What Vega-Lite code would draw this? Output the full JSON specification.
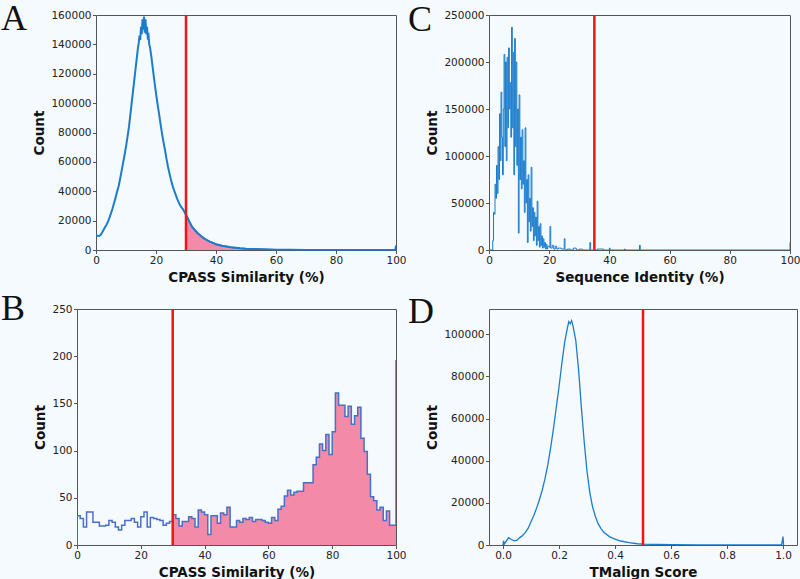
{
  "$schema": "https://vega.github.io/schema/vega-lite/v6.json",
  "background": "#f5fafe",
  "padding": {"left": 1, "top": 1, "right": 0, "bottom": 0},
  "config": {
    "view": {"stroke": "#555555", "strokeWidth": 1, "fill": "#f5fafe"},
    "axis": {"labelFont": "DejaVu Sans", "labelFontSize": 10.5, "labelColor": "#222222", "titleFont": "DejaVu Sans", "titleFontSize": 13.5, "titleFontWeight": "bold", "titleColor": "#111111", "grid": false, "domain": false, "tickColor": "#555555", "tickSize": 3.5, "labelPadding": 1.5, "labelFlush": false, "labelOverlap": false},
    "axisX": {"titlePadding": 5},
    "axisY": {"titlePadding": 4},
    "title": {"font": "Liberation Serif", "fontSize": 36, "fontWeight": "normal", "anchor": "start", "frame": "group", "offset": 0, "baseline": "top", "color": "#111111"}
  },
  "datasets": {
    "a": [
      {"x": 0, "y": 10200}, {"x": 0.5, "y": 9600}, {"x": 1, "y": 9500}, {"x": 1.5, "y": 10200}, {"x": 2, "y": 11800}, {"x": 2.5, "y": 13600}, {"x": 3, "y": 15500}, {"x": 3.5, "y": 17200}, {"x": 4, "y": 19300}, {"x": 4.5, "y": 22000}, {"x": 5, "y": 25000}, {"x": 5.5, "y": 28200}, {"x": 6, "y": 31800}, {"x": 6.5, "y": 35500}, {"x": 7, "y": 39500}, {"x": 7.5, "y": 43100}, {"x": 8, "y": 48000}, {"x": 8.5, "y": 53500}, {"x": 9, "y": 59000}, {"x": 9.5, "y": 64500}, {"x": 10, "y": 70400}, {"x": 10.5, "y": 77000}, {"x": 11, "y": 84000}, {"x": 11.5, "y": 93000}, {"x": 12, "y": 102000}, {"x": 12.5, "y": 111000}, {"x": 13, "y": 120000}, {"x": 13.5, "y": 129000}, {"x": 14, "y": 138000}, {"x": 14.25, "y": 141000}, {"x": 14.5, "y": 146000}, {"x": 14.75, "y": 143000}, {"x": 15, "y": 152000}, {"x": 15.25, "y": 147000}, {"x": 15.5, "y": 157000}, {"x": 15.75, "y": 150000}, {"x": 16, "y": 159000}, {"x": 16.25, "y": 148000}, {"x": 16.5, "y": 157000}, {"x": 16.75, "y": 147000}, {"x": 17, "y": 152000}, {"x": 17.25, "y": 145000}, {"x": 17.5, "y": 146000}, {"x": 17.75, "y": 140000}, {"x": 18, "y": 138000}, {"x": 18.5, "y": 131000}, {"x": 19, "y": 122500}, {"x": 19.5, "y": 114500}, {"x": 20, "y": 106700}, {"x": 20.5, "y": 99500}, {"x": 21, "y": 93000}, {"x": 21.5, "y": 86000}, {"x": 22, "y": 79400}, {"x": 22.5, "y": 73500}, {"x": 23, "y": 68100}, {"x": 23.5, "y": 62000}, {"x": 24, "y": 56700}, {"x": 24.5, "y": 52000}, {"x": 25, "y": 47700}, {"x": 25.5, "y": 44000}, {"x": 26, "y": 40800}, {"x": 26.5, "y": 38000}, {"x": 27, "y": 35200}, {"x": 27.5, "y": 32800}, {"x": 28, "y": 30600}, {"x": 28.5, "y": 29000}, {"x": 29, "y": 27700}, {"x": 29.5, "y": 25800}, {"x": 30, "y": 23800}, {"x": 30.5, "y": 22000}, {"x": 31, "y": 19800}, {"x": 32, "y": 15900}, {"x": 33, "y": 13400}, {"x": 34, "y": 11300}, {"x": 35, "y": 9500}, {"x": 36, "y": 7900}, {"x": 37, "y": 6700}, {"x": 38, "y": 5700}, {"x": 39, "y": 4800}, {"x": 40, "y": 3900}, {"x": 42, "y": 2900}, {"x": 45, "y": 1800}, {"x": 48, "y": 1200}, {"x": 50, "y": 900}, {"x": 55, "y": 450}, {"x": 60, "y": 200}, {"x": 65, "y": 100}, {"x": 70, "y": 50}, {"x": 80, "y": 15}, {"x": 90, "y": 5}, {"x": 99.8, "y": 0}, {"x": 100, "y": 3000}
    ],
    "b": [
      {"x": 0, "y": 0}, {"x": 0, "y": 31}, {"x": 1, "y": 28}, {"x": 2, "y": 19}, {"x": 3, "y": 35}, {"x": 4, "y": 35}, {"x": 5, "y": 24}, {"x": 6, "y": 24}, {"x": 7, "y": 20}, {"x": 8, "y": 20}, {"x": 9, "y": 21},
      {"x": 10, "y": 26}, {"x": 11, "y": 24}, {"x": 12, "y": 19}, {"x": 13, "y": 16}, {"x": 14, "y": 21}, {"x": 15, "y": 26}, {"x": 16, "y": 26}, {"x": 17, "y": 28}, {"x": 18, "y": 24}, {"x": 19, "y": 19},
      {"x": 20, "y": 30}, {"x": 21, "y": 35}, {"x": 22, "y": 19}, {"x": 23, "y": 29}, {"x": 24, "y": 28}, {"x": 25, "y": 27}, {"x": 26, "y": 26}, {"x": 27, "y": 21}, {"x": 28, "y": 23}, {"x": 29, "y": 25},
      {"x": 30, "y": 32}, {"x": 31, "y": 28}, {"x": 32, "y": 20}, {"x": 33, "y": 25}, {"x": 34, "y": 25}, {"x": 35, "y": 30}, {"x": 36, "y": 28}, {"x": 37, "y": 19}, {"x": 38, "y": 37}, {"x": 39, "y": 35},
      {"x": 40, "y": 32}, {"x": 41, "y": 11}, {"x": 42, "y": 31}, {"x": 43, "y": 31}, {"x": 44, "y": 23}, {"x": 45, "y": 34}, {"x": 46, "y": 32}, {"x": 47, "y": 40}, {"x": 48, "y": 19}, {"x": 49, "y": 19},
      {"x": 50, "y": 26}, {"x": 51, "y": 24}, {"x": 52, "y": 28}, {"x": 53, "y": 27}, {"x": 54, "y": 29}, {"x": 55, "y": 25}, {"x": 56, "y": 27}, {"x": 57, "y": 27}, {"x": 58, "y": 26}, {"x": 59, "y": 24},
      {"x": 60, "y": 23}, {"x": 61, "y": 29}, {"x": 62, "y": 26}, {"x": 63, "y": 38}, {"x": 64, "y": 41}, {"x": 65, "y": 52}, {"x": 66, "y": 58}, {"x": 67, "y": 53}, {"x": 68, "y": 56}, {"x": 69, "y": 57},
      {"x": 70, "y": 57}, {"x": 71, "y": 66}, {"x": 72, "y": 66}, {"x": 73, "y": 66}, {"x": 74, "y": 85}, {"x": 75, "y": 93}, {"x": 76, "y": 107}, {"x": 77, "y": 100}, {"x": 78, "y": 117}, {"x": 79, "y": 96},
      {"x": 80, "y": 120}, {"x": 81, "y": 161}, {"x": 82, "y": 148}, {"x": 83, "y": 148}, {"x": 84, "y": 136}, {"x": 85, "y": 147}, {"x": 86, "y": 128}, {"x": 87, "y": 137}, {"x": 88, "y": 146}, {"x": 89, "y": 113},
      {"x": 90, "y": 99}, {"x": 91, "y": 75}, {"x": 92, "y": 51}, {"x": 93, "y": 47}, {"x": 94, "y": 37}, {"x": 95, "y": 40}, {"x": 96, "y": 26}, {"x": 97, "y": 36}, {"x": 98, "y": 21}, {"x": 99, "y": 21},
      {"x": 100, "y": 196}
    ],
    "c": [
      {"x": 0, "y": 0}, {"x": 1, "y": 0}, {"x": 1.25, "y": 10000}, {"x": 1.5, "y": 40000}, {"x": 1.75, "y": 38000}, {"x": 2, "y": 70000}, {"x": 2.25, "y": 55000}, {"x": 2.5, "y": 90000}, {"x": 2.75, "y": 60000},
      {"x": 3, "y": 110000}, {"x": 3.25, "y": 75000}, {"x": 3.5, "y": 145000}, {"x": 3.75, "y": 95000}, {"x": 4, "y": 168000}, {"x": 4.25, "y": 120000}, {"x": 4.5, "y": 80000}, {"x": 4.75, "y": 150000},
      {"x": 5, "y": 208000}, {"x": 5.25, "y": 110000}, {"x": 5.5, "y": 200000}, {"x": 5.75, "y": 95000}, {"x": 6, "y": 205000}, {"x": 6.25, "y": 130000}, {"x": 6.5, "y": 215000}, {"x": 6.75, "y": 150000},
      {"x": 7, "y": 178000}, {"x": 7.25, "y": 120000}, {"x": 7.5, "y": 237000}, {"x": 7.75, "y": 130000}, {"x": 8, "y": 210000}, {"x": 8.25, "y": 80000}, {"x": 8.5, "y": 225000}, {"x": 8.75, "y": 110000},
      {"x": 9, "y": 200000}, {"x": 9.25, "y": 90000}, {"x": 9.5, "y": 150000}, {"x": 9.75, "y": 18000}, {"x": 10, "y": 165000}, {"x": 10.25, "y": 75000}, {"x": 10.5, "y": 120000}, {"x": 10.75, "y": 65000},
      {"x": 11, "y": 128000}, {"x": 11.25, "y": 70000}, {"x": 11.5, "y": 95000}, {"x": 11.75, "y": 40000}, {"x": 12, "y": 130000}, {"x": 12.25, "y": 50000}, {"x": 12.5, "y": 75000}, {"x": 12.75, "y": 8000},
      {"x": 13, "y": 80000}, {"x": 13.25, "y": 30000}, {"x": 13.5, "y": 55000}, {"x": 13.75, "y": 20000}, {"x": 14, "y": 88000}, {"x": 14.25, "y": 25000}, {"x": 14.5, "y": 45000}, {"x": 14.75, "y": 10000},
      {"x": 15, "y": 40000}, {"x": 15.25, "y": 15000}, {"x": 15.5, "y": 35000}, {"x": 15.75, "y": 5000}, {"x": 16, "y": 52000}, {"x": 16.25, "y": 10000}, {"x": 16.5, "y": 25000}, {"x": 16.75, "y": 3000},
      {"x": 17, "y": 28000}, {"x": 17.25, "y": 5000}, {"x": 17.5, "y": 15000}, {"x": 17.75, "y": 2000}, {"x": 18, "y": 12000}, {"x": 18.25, "y": 3000}, {"x": 18.5, "y": 8000}, {"x": 18.75, "y": 1000},
      {"x": 19, "y": 6000}, {"x": 19.25, "y": 1000}, {"x": 19.5, "y": 4000}, {"x": 20, "y": 3000}, {"x": 20.25, "y": 25000}, {"x": 20.5, "y": 2000}, {"x": 21, "y": 5000}, {"x": 21.5, "y": 1000},
      {"x": 22, "y": 4000}, {"x": 22.5, "y": 1000}, {"x": 23, "y": 2000}, {"x": 24, "y": 1000}, {"x": 25, "y": 12000}, {"x": 25.25, "y": 0}, {"x": 26, "y": 1000}, {"x": 27, "y": 0}, {"x": 28, "y": 2000},
      {"x": 29, "y": 0}, {"x": 30, "y": 1000}, {"x": 31, "y": 0}, {"x": 33.5, "y": 8000}, {"x": 33.75, "y": 0}, {"x": 36, "y": 1000}, {"x": 38, "y": 0}, {"x": 40, "y": 2000}, {"x": 40.25, "y": 0},
      {"x": 45, "y": 1000}, {"x": 45.25, "y": 0}, {"x": 50, "y": 5000}, {"x": 50.25, "y": 0}, {"x": 99.75, "y": 0}, {"x": 100, "y": 8000}
    ],
    "d": [
      {"x": 0, "y": 0}, {"x": 0.002, "y": 2000}, {"x": 0.005, "y": 500}, {"x": 0.01, "y": 1500}, {"x": 0.02, "y": 3500}, {"x": 0.03, "y": 2600}, {"x": 0.04, "y": 2000}, {"x": 0.05, "y": 2300},
      {"x": 0.06, "y": 3500}, {"x": 0.07, "y": 4500}, {"x": 0.08, "y": 6000}, {"x": 0.09, "y": 8000}, {"x": 0.1, "y": 11000}, {"x": 0.11, "y": 14000}, {"x": 0.12, "y": 17500}, {"x": 0.13, "y": 21500},
      {"x": 0.14, "y": 26000}, {"x": 0.15, "y": 31500}, {"x": 0.16, "y": 38000}, {"x": 0.17, "y": 46000}, {"x": 0.18, "y": 55000}, {"x": 0.19, "y": 65000}, {"x": 0.2, "y": 75000}, {"x": 0.21, "y": 86000},
      {"x": 0.22, "y": 96000}, {"x": 0.23, "y": 103000}, {"x": 0.235, "y": 106000}, {"x": 0.24, "y": 105000}, {"x": 0.245, "y": 106500}, {"x": 0.25, "y": 104000}, {"x": 0.26, "y": 97000}, {"x": 0.27, "y": 83000},
      {"x": 0.28, "y": 65000}, {"x": 0.29, "y": 49000}, {"x": 0.3, "y": 35000}, {"x": 0.31, "y": 25000}, {"x": 0.32, "y": 18000}, {"x": 0.33, "y": 13500}, {"x": 0.34, "y": 10000}, {"x": 0.35, "y": 7800},
      {"x": 0.36, "y": 6000}, {"x": 0.38, "y": 4000}, {"x": 0.4, "y": 2800}, {"x": 0.42, "y": 1900}, {"x": 0.45, "y": 1100}, {"x": 0.48, "y": 600}, {"x": 0.5, "y": 400}, {"x": 0.55, "y": 250},
      {"x": 0.6, "y": 150}, {"x": 0.7, "y": 80}, {"x": 0.8, "y": 50}, {"x": 0.9, "y": 30}, {"x": 0.995, "y": 60}, {"x": 1.0, "y": 4000}, {"x": 1.002, "y": 0}
    ]
  },
  "spacing": 6,
  "vconcat": [
    {
      "spacing": 0,
      "hconcat": [
        {
          "width": 31, "height": 235,
          "view": {"stroke": null},
          "title": {"text": "A", "dy": 27},
          "data": {"values": []},
          "mark": "point",
          "encoding": {}
        },
        {
          "width": 300, "height": 235,
          "layer": [
            {"data": {"name": "a"}, "transform": [{"filter": "datum.x >= 30"}],
             "mark": {"type": "area", "color": "#f28aa8", "opacity": 1, "line": {"color": "#2a6fc0", "strokeWidth": 1.5}},
             "encoding": {
               "x": {"field": "x", "type": "quantitative", "scale": {"domain": [0, 100], "nice": false, "zero": false}, "axis": {"values": [0, 20, 40, 60, 80, 100], "title": "CPASS Similarity (%)"}},
               "y": {"field": "y", "type": "quantitative", "scale": {"domain": [0, 160000], "nice": false}, "axis": {"values": [0, 20000, 40000, 60000, 80000, 100000, 120000, 140000, 160000], "format": "d", "title": "Count"}}}},
            {"data": {"name": "a"},
             "mark": {"type": "line", "color": "#1c7ccc", "strokeWidth": 2, "clip": true},
             "encoding": {
               "x": {"field": "x", "type": "quantitative", "scale": {"domain": [0, 100], "nice": false, "zero": false}, "axis": {"values": [0, 20, 40, 60, 80, 100], "title": "CPASS Similarity (%)"}},
               "y": {"field": "y", "type": "quantitative", "scale": {"domain": [0, 160000], "nice": false}, "axis": {"values": [0, 20000, 40000, 60000, 80000, 100000, 120000, 140000, 160000], "format": "d", "title": "Count"}}}},
            {"data": {"values": [{}]}, "mark": {"type": "rule", "color": "#f01515", "strokeWidth": 2.5}, "encoding": {"x": {"datum": 30}}}
          ]
        },
        {
          "width": 301, "height": 235,
          "title": {"text": "C", "dx": -81, "dy": 33},
          "layer": [
            {"data": {"name": "c"},
             "mark": {"type": "line", "color": "#1c7ccc", "strokeWidth": 1, "interpolate": "step-after", "clip": true},
             "encoding": {
               "x": {"field": "x", "type": "quantitative", "scale": {"domain": [0, 100], "nice": false, "zero": false}, "axis": {"values": [0, 20, 40, 60, 80, 100], "title": "Sequence Identity (%)"}},
               "y": {"field": "y", "type": "quantitative", "scale": {"domain": [0, 250000], "nice": false}, "axis": {"values": [0, 50000, 100000, 150000, 200000, 250000], "format": "d", "title": "Count"}}}},
            {"data": {"values": [{}]}, "mark": {"type": "rule", "color": "#f01515", "strokeWidth": 2.5}, "encoding": {"x": {"datum": 35}}}
          ]
        }
      ]
    },
    {
      "spacing": 0,
      "hconcat": [
        {
          "width": 32, "height": 236,
          "view": {"stroke": null},
          "title": {"text": "B", "dy": 23},
          "data": {"values": []},
          "mark": "point",
          "encoding": {}
        },
        {
          "width": 319, "height": 236,
          "layer": [
            {"data": {"name": "b"}, "transform": [{"filter": "datum.x >= 30"}],
             "mark": {"type": "area", "color": "#f28aa8", "opacity": 1, "interpolate": "step-after", "clip": true},
             "encoding": {
               "x": {"field": "x", "type": "quantitative", "scale": {"domain": [0, 100], "nice": false, "zero": false}, "axis": {"values": [0, 20, 40, 60, 80, 100], "title": "CPASS Similarity (%)"}},
               "y": {"field": "y", "type": "quantitative", "scale": {"domain": [0, 250], "nice": false}, "axis": {"values": [0, 50, 100, 150, 200, 250], "format": "d", "title": "Count"}}}},
            {"data": {"name": "b"},
             "mark": {"type": "line", "color": "#4a6fc6", "strokeWidth": 1.5, "interpolate": "step-after", "clip": true},
             "encoding": {
               "x": {"field": "x", "type": "quantitative", "scale": {"domain": [0, 100], "nice": false, "zero": false}, "axis": {"values": [0, 20, 40, 60, 80, 100], "title": "CPASS Similarity (%)"}},
               "y": {"field": "y", "type": "quantitative", "scale": {"domain": [0, 250], "nice": false}, "axis": {"values": [0, 50, 100, 150, 200, 250], "format": "d", "title": "Count"}}}},
            {"data": {"values": [{}]}, "mark": {"type": "rule", "color": "#f01515", "strokeWidth": 2.5}, "encoding": {"x": {"datum": 30}}}
          ]
        },
        {
          "width": 308, "height": 236,
          "title": {"text": "D", "dx": -81, "dy": 27},
          "layer": [
            {"data": {"name": "d"},
             "mark": {"type": "line", "color": "#1c7ccc", "strokeWidth": 1.3, "clip": true},
             "encoding": {
               "x": {"field": "x", "type": "quantitative", "scale": {"domain": [-0.05, 1.05], "nice": false, "zero": false}, "axis": {"values": [0, 0.2, 0.4, 0.6, 0.8, 1.0], "format": ".1f", "title": "TMalign Score"}},
               "y": {"field": "y", "type": "quantitative", "scale": {"domain": [0, 112000], "nice": false}, "axis": {"values": [0, 20000, 40000, 60000, 80000, 100000], "format": "d", "title": "Count"}}}},
            {"data": {"values": [{}]}, "mark": {"type": "rule", "color": "#f01515", "strokeWidth": 2.5}, "encoding": {"x": {"datum": 0.5}}}
          ]
        }
      ]
    }
  ]
}
